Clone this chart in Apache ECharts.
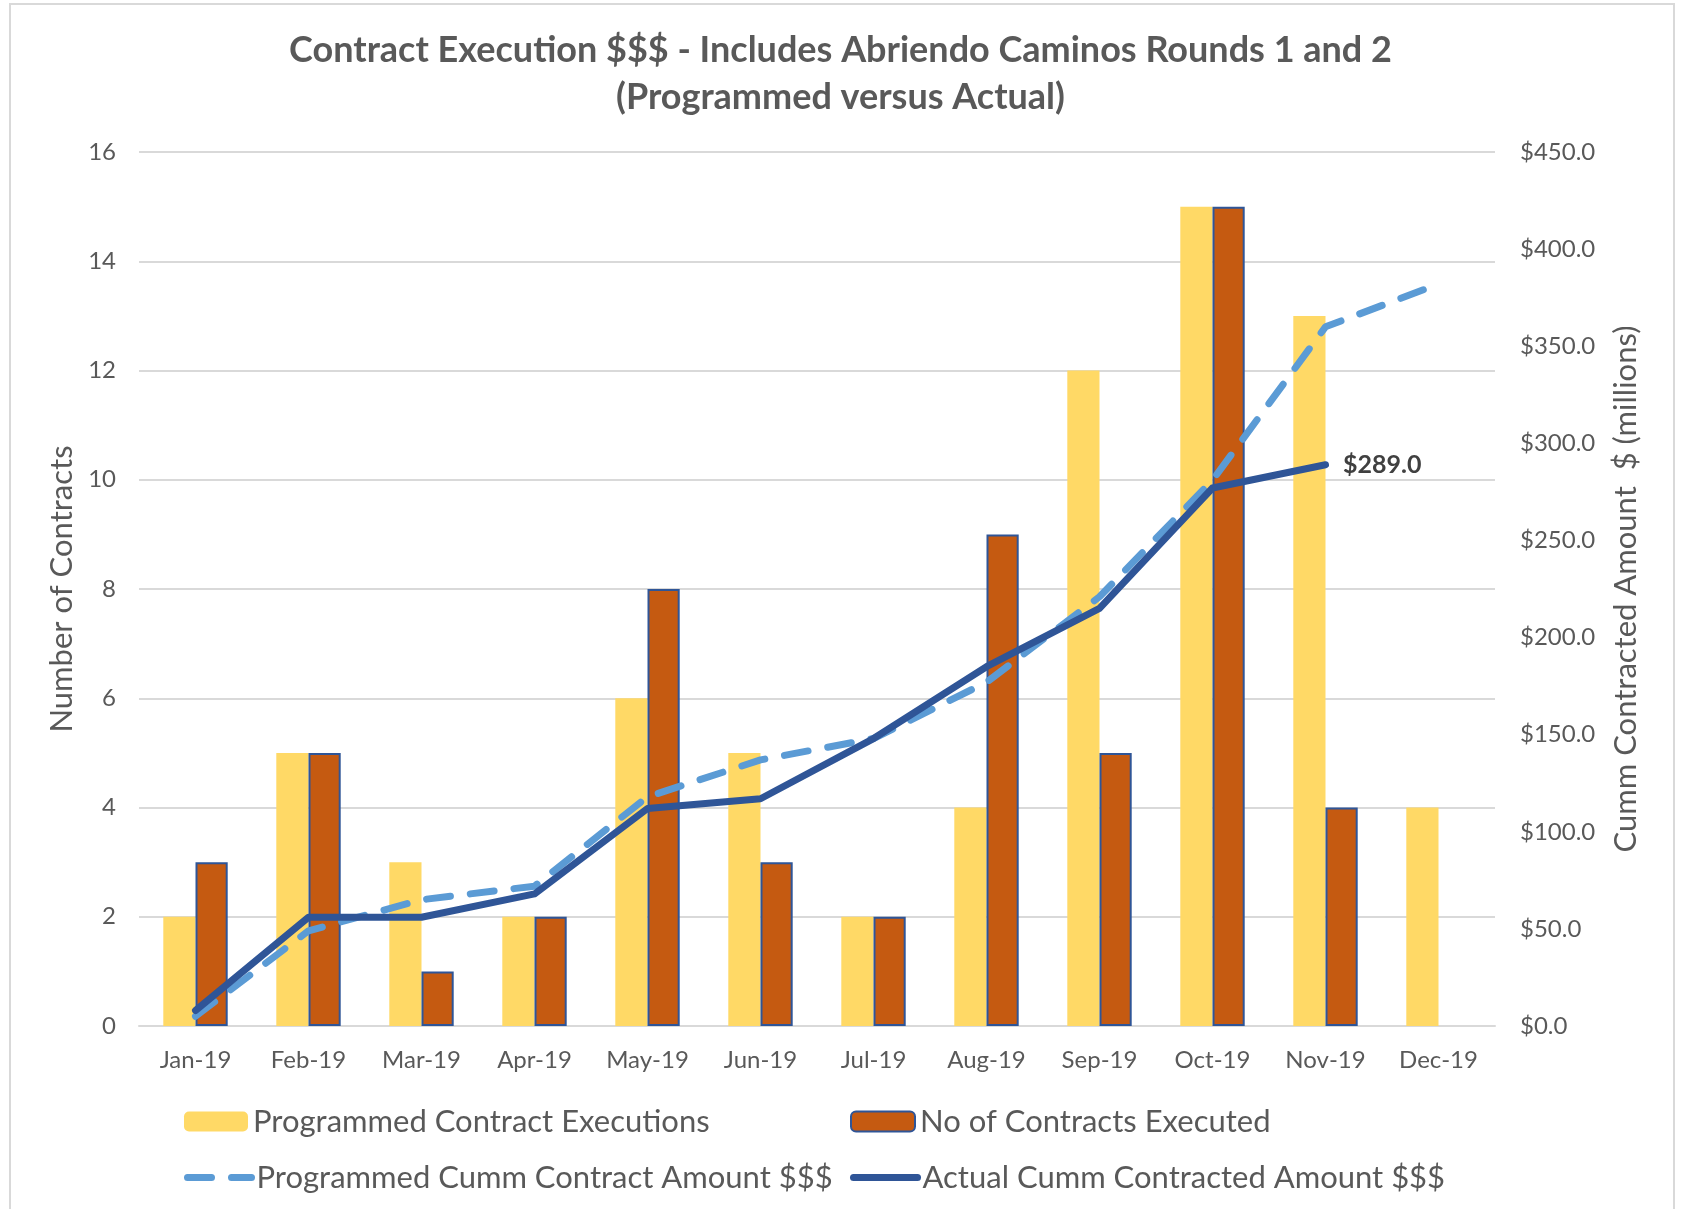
<!DOCTYPE html>
<html>
<head>
<meta charset="utf-8">
<title>Contract Execution</title>
<script src="https://cdn.jsdelivr.net/npm/echarts@6/dist/echarts.min.js"></script>
<style>
  html, body { margin: 0; padding: 0; background: #fff; }
  #chart { width: 1681px; height: 1209px; }
</style>
</head>
<body>
<div id="chart"></div>
<script>
// data
const months = ['Jan-19', 'Feb-19', 'Mar-19', 'Apr-19', 'May-19', 'Jun-19',
  'Jul-19', 'Aug-19', 'Sep-19', 'Oct-19', 'Nov-19', 'Dec-19'];
const programmedCount = [2, 5, 3, 2, 6, 5, 2, 4, 12, 15, 13, 4];
const executedCount = [3, 5, 1, 2, 8, 3, 2, 9, 5, 15, 4, null];
const programmedCumm = [5, 49, 65, 72, 118, 137, 148, 177, 221, 281, 360, 382];
const actualCumm = [8, 56, 56, 68, 112, 117, 148, 185, 215, 277, 289, null];

const fontFamily = 'Lato, "Open Sans", sans-serif';
const textGray = '#595959';
const gridGray = '#d9d9d9';

const chart = echarts.init(document.getElementById('chart'));

// last actual point gets the value label
const lastActual = actualCumm.reduce((acc, v, i) => (v != null ? i : acc), 0);
const actualData = actualCumm.map((v, i) => {
  if (i !== lastActual) return v;
  return {
    value: v,
    label: {
      show: true,
      position: 'right',
      distance: 17,
      formatter: p => '$' + Number(p.value).toFixed(1),
      color: '#404040',
      fontSize: 25,
      fontWeight: 'bold',
      fontFamily: fontFamily
    }
  };
});

const legendText = { color: textGray, fontSize: 31, fontFamily: fontFamily };
const legendBase = {
  itemWidth: 64,
  itemHeight: 20,
  itemGap: 0,
  textStyle: legendText
};
// line legends: keep the line, hide the marker
const lineLegend = {
  itemStyle: { opacity: 0 },
  lineStyle: { width: 7, cap: 'round' }
};

const option = {
  backgroundColor: '#fff',
  animation: false,
  title: {
    text: 'Contract Execution $$$ - Includes Abriendo Caminos Rounds 1 and 2\n(Programmed versus Actual)',
    left: 'center',
    top: 22,
    textStyle: {
      color: textGray,
      fontSize: 36,
      fontWeight: 'bold',
      fontFamily: fontFamily,
      lineHeight: 47
    }
  },
  graphic: [{
    type: 'rect',
    shape: { x: 10, y: 4, width: 1664, height: 1220 },
    style: { fill: 'none', stroke: gridGray, lineWidth: 2 },
    silent: true
  }],
  legend: [
    Object.assign({ data: ['Programmed Contract Executions'], left: 179, top: 1101 }, legendBase),
    Object.assign({ data: ['No of Contracts Executed'], left: 845, top: 1101 }, legendBase),
    Object.assign({ data: ['Programmed Cumm Contract Amount $$$'], left: 179, top: 1157 }, legendBase, lineLegend),
    Object.assign({ data: ['Actual Cumm Contracted Amount $$$'], left: 845, top: 1157 }, legendBase, lineLegend)
  ],
  grid: {
    left: 139,
    right: 186,
    top: 152,
    bottom: 183
  },
  xAxis: {
    type: 'category',
    data: months,
    axisLine: { lineStyle: { color: gridGray, width: 2 } },
    axisTick: { show: false },
    axisLabel: {
      color: textGray,
      fontSize: 24,
      fontFamily: fontFamily,
      margin: 22
    }
  },
  yAxis: [
    {
      type: 'value',
      min: 0,
      max: 16,
      interval: 2,
      name: 'Number of Contracts',
      nameLocation: 'middle',
      nameGap: 60,
      nameTextStyle: { color: textGray, fontSize: 31, fontFamily: fontFamily },
      axisLine: { show: false },
      axisTick: { show: false },
      axisLabel: { color: textGray, fontSize: 24, fontFamily: fontFamily, margin: 23 },
      splitLine: { lineStyle: { color: gridGray, width: 2 } }
    },
    {
      type: 'value',
      min: 0,
      max: 450,
      interval: 50,
      name: 'Cumm Contracted Amount  $ (millions)',
      nameLocation: 'middle',
      nameGap: 115,
      nameTextStyle: { color: textGray, fontSize: 31, fontFamily: fontFamily },
      axisLine: { show: false },
      axisTick: { show: false },
      axisLabel: {
        color: textGray,
        fontSize: 24,
        fontFamily: fontFamily,
        margin: 25,
        formatter: v => '$' + v.toFixed(1)
      },
      splitLine: { show: false }
    }
  ],
  series: [
    {
      name: 'Programmed Contract Executions',
      type: 'bar',
      data: programmedCount,
      barGap: '0%',
      barCategoryGap: '43%',
      itemStyle: { color: '#FFD966' }
    },
    {
      name: 'No of Contracts Executed',
      type: 'bar',
      data: executedCount,
      itemStyle: { color: '#C55A11', borderColor: '#2F5597', borderWidth: 2 }
    },
    {
      name: 'Programmed Cumm Contract Amount $$$',
      type: 'line',
      yAxisIndex: 1,
      data: programmedCumm,
      symbol: 'none',
      z: 3,
      lineStyle: {
        color: '#5B9BD5',
        width: 7,
        type: [24, 20],
        cap: 'round'
      },
      itemStyle: { color: '#5B9BD5' }
    },
    {
      name: 'Actual Cumm Contracted Amount $$$',
      type: 'line',
      yAxisIndex: 1,
      data: actualData,
      symbol: 'circle',
      symbolSize: 1,
      z: 4,
      lineStyle: { color: '#2F5597', width: 7, join: 'round', cap: 'round' },
      itemStyle: { color: '#2F5597' }
    }
  ]
};

chart.setOption(option);
window.addEventListener('resize', () => chart.resize());
</script>
</body>
</html>
